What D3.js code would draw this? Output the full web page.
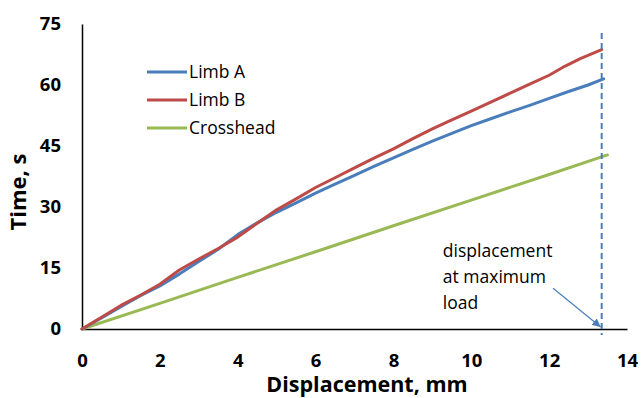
<!DOCTYPE html>
<html>
<head>
<meta charset="utf-8">
<script src="https://cdn.jsdelivr.net/npm/d3@7"></script>
<style>
  body { margin: 0; background: #fff; }
  svg { font-family: "Open Sans", sans-serif; }
</style>
</head>
<body>
<svg width="641" height="398"></svg>
<script>
// data
var limbA = [[0,0],[0.5,2.7],[1,5.5],[1.5,8.2],[2,10.6],[2.5,13.5],[3,16.6],[3.5,19.6],[4,23.2],[4.5,26.1],[5,28.7],[5.5,31.0],[6,33.4],[6.5,35.6],[7,37.8],[7.5,40.0],[8,42.1],[8.5,44.2],[9,46.2],[9.5,48.1],[10,50.0],[10.5,51.7],[11,53.4],[11.5,55.0],[12,56.7],[12.5,58.4],[13,60.0],[13.4,61.5]];
var limbB = [[0,0],[0.5,2.9],[1,5.8],[1.5,8.3],[2,11.0],[2.5,14.5],[3,17.2],[3.5,19.8],[4,22.6],[4.5,26.0],[5,29.3],[5.5,32.0],[6,34.8],[6.5,37.2],[7,39.6],[7.5,42.0],[8,44.3],[8.5,46.8],[9,49.2],[9.5,51.4],[10,53.6],[10.5,55.8],[11,58.0],[11.5,60.2],[12,62.4],[12.4,64.6],[12.8,66.5],[13.35,68.7]];
var crosshead = [[0,0],[2,6.3],[4,12.7],[6,19.0],[8,25.4],[10,31.7],[12,38.0],[13.5,42.8]];
var seriesNames = ["Limb A", "Limb B", "Crosshead"];
var xTicks = [0, 2, 4, 6, 8, 10, 12, 14];
var yTicks = [0, 15, 30, 45, 60, 75];
var maxLoadDisp = 13.35;
var noteLines = ["displacement", "at maximum", "load"];

var svg = d3.select("svg");
var margin = {top: 24, right: 14, bottom: 69, left: 82};
var width = 641 - margin.left - margin.right;
var height = 398 - margin.top - margin.bottom;
var g = svg.append("g").attr("transform", "translate(" + margin.left + "," + margin.top + ")");

var x = d3.scaleLinear().domain([0, 14]).range([0, width]);
var y = d3.scaleLinear().domain([0, 75]).range([height, 0]);
var z = d3.scaleOrdinal().domain(seriesNames).range(["#4a7ebb", "#be4b48", "#98b954"]);

var xAxis = g.append("g")
  .attr("transform", "translate(0," + height + ")")
  .call(d3.axisBottom(x).tickValues(xTicks).tickSize(0).tickPadding(25));
var yAxis = g.append("g")
  .call(d3.axisLeft(y).tickValues(yTicks).tickSize(0).tickPadding(21));
[xAxis, yAxis].forEach(function(a) {
  a.select(".domain").attr("stroke", "#000").attr("stroke-width", 1.5);
  a.selectAll("text").attr("font-size", 18.5).attr("font-weight", "bold").attr("fill", "#000")
    .attr("font-family", "'Open Sans', sans-serif");
});

var line = d3.line()
  .x(function(d) { return x(d[0]); })
  .y(function(d) { return y(d[1]); });

var sets = [limbA, limbB, crosshead];
// crosshead underneath, then the limbs
[2, 0, 1].forEach(function(i) {
  g.append("path")
    .datum(sets[i])
    .attr("fill", "none")
    .attr("stroke", z(seriesNames[i]))
    .attr("stroke-width", 3)
    .attr("stroke-linejoin", "round")
    .attr("stroke-linecap", "round")
    .attr("d", line);
});

// max load marker
g.append("line")
  .attr("x1", x(maxLoadDisp)).attr("x2", x(maxLoadDisp))
  .attr("y1", y(72.8)).attr("y2", height + 6)
  .attr("stroke", "#4a7ebb").attr("stroke-width", 2)
  .attr("stroke-dasharray", "6,4");

svg.append("defs").append("marker")
  .attr("id", "arrow")
  .attr("viewBox", "0 0 10 10")
  .attr("refX", 10).attr("refY", 5)
  .attr("markerWidth", 7).attr("markerHeight", 7)
  .attr("orient", "auto")
  .append("path").attr("d", "M0,0L10,5L0,10z").attr("fill", "#4a7ebb");

g.append("line")
  .attr("x1", x(12.1)).attr("y1", y(10))
  .attr("x2", x(maxLoadDisp) - 1).attr("y2", y(0.5))
  .attr("stroke", "#4a7ebb").attr("stroke-width", 1.2)
  .attr("marker-end", "url(#arrow)");

g.selectAll(".note")
  .data(noteLines)
  .enter().append("text")
  .attr("class", "note")
  .attr("x", x(9.27))
  .attr("y", function(d, i) { return y(17.7) + i * 26; })
  .attr("font-size", 17.5)
  .attr("fill", "#000")
  .text(function(d) { return d; });

// legend
var legend = g.selectAll(".legend")
  .data(seriesNames)
  .enter().append("g")
  .attr("class", "legend")
  .attr("transform", function(d, i) { return "translate(65," + (48 + i * 28) + ")"; });
legend.append("line")
  .attr("x1", 0).attr("x2", 40)
  .attr("stroke", function(d) { return z(d); })
  .attr("stroke-width", 3);
legend.append("text")
  .attr("x", 42).attr("dy", "0.35em")
  .attr("font-size", 17.5)
  .text(function(d) { return d; });

// axis titles
svg.append("text")
  .attr("x", 367).attr("y", 392)
  .attr("text-anchor", "middle")
  .attr("font-size", 21.5).attr("font-weight", "bold")
  .text("Displacement, mm");
svg.append("text")
  .attr("transform", "translate(26,192) rotate(-90)")
  .attr("text-anchor", "middle")
  .attr("font-size", 22).attr("font-weight", "bold")
  .text("Time, s");
</script>
</body>
</html>
